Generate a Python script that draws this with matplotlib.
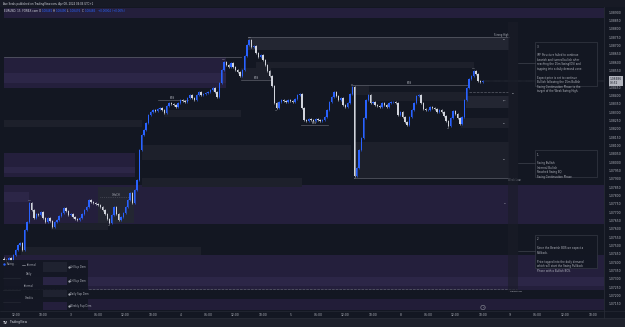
import matplotlib
matplotlib.use("Agg")
import matplotlib.pyplot as plt
from matplotlib.patches import Rectangle, Circle
import numpy as np

# ---------------- data ----------------
closes = [
    1.07412, 1.07400, 1.07424, 1.07406, 1.07442, 1.07472, 1.07502, 1.07514, 1.07472, 1.07592,
    1.07640, 1.07754, 1.07712, 1.07664, 1.07688, 1.07682, 1.07700, 1.07664, 1.07640, 1.07664,
    1.07646, 1.07610, 1.07640, 1.07652, 1.07676, 1.07694, 1.07724, 1.07706, 1.07682, 1.07688,
    1.07670, 1.07658, 1.07652, 1.07664, 1.07688, 1.07712, 1.07730, 1.07772, 1.07760, 1.07754,
    1.07748, 1.07742, 1.07730, 1.07712, 1.07688, 1.07658, 1.07634, 1.07682, 1.07730, 1.07688,
    1.07652, 1.07670, 1.07694, 1.07730, 1.07772, 1.07814, 1.07754, 1.07832, 1.07892, 1.08072,
    1.08162, 1.08192, 1.08234, 1.08282, 1.08300, 1.08312, 1.08306, 1.08318, 1.08324, 1.08312,
    1.08294, 1.08336, 1.08354, 1.08348, 1.08342, 1.08330, 1.08354, 1.08372, 1.08366, 1.08360,
    1.08384, 1.08402, 1.08384, 1.08372, 1.08402, 1.08420, 1.08402, 1.08408, 1.08414, 1.08420,
    1.08432, 1.08444, 1.08420, 1.08390, 1.08474, 1.08552, 1.08600, 1.08582, 1.08570, 1.08594,
    1.08570, 1.08552, 1.08540, 1.08516, 1.08552, 1.08636, 1.08702, 1.08732, 1.08690, 1.08696,
    1.08654, 1.08630, 1.08642, 1.08612, 1.08582, 1.08546, 1.08516, 1.08456, 1.08354, 1.08324,
    1.08360, 1.08372, 1.08366, 1.08360, 1.08372, 1.08366, 1.08360, 1.08378, 1.08402, 1.08408,
    1.08324, 1.08252, 1.08246, 1.08258, 1.08252, 1.08246, 1.08258, 1.08252, 1.08246, 1.08252,
    1.08270, 1.08312, 1.08360, 1.08390, 1.08420, 1.08396, 1.08372, 1.08384, 1.08342, 1.08330,
    1.08354, 1.08408, 1.08450, 1.07916, 1.07964, 1.08072, 1.08144, 1.08264, 1.08372, 1.08402,
    1.08354, 1.08360, 1.08342, 1.08336, 1.08330, 1.08354, 1.08342, 1.08330, 1.08354, 1.08360,
    1.08360, 1.08354, 1.08282, 1.08300, 1.08270, 1.08240, 1.08222, 1.08270, 1.08312, 1.08354,
    1.08396, 1.08402, 1.08354, 1.08318, 1.08312, 1.08312, 1.08330, 1.08324, 1.08318, 1.08300,
    1.08312, 1.08300, 1.08276, 1.08246, 1.08216, 1.08264, 1.08306, 1.08288, 1.08264, 1.08228,
    1.08270, 1.08372, 1.08444, 1.08498, 1.08516, 1.08546, 1.08528, 1.08486, 1.08480, 1.08486,
]
first_open = 1.07420

time_labels = ["12:00", "18:00", "3", "06:00", "12:00", "18:00", "4", "06:00", "12:00", "18:00",
               "5", "06:00", "12:00", "18:00", "8", "06:00", "12:00", "18:00", "9", "06:00",
               "12:00", "18:00"]
first_label_bar = 5
bars_per_label = 12

price_labels = [1.0890 - 0.0005 * k for k in range(36)]

# supply / demand zones: (bar start, bar end, price top, price bottom, kind)
zones = [
    (0, 262, 1.08930, 1.08864, "htf"),
    (0, 97, 1.08630, 1.08444, "htf"),
    (0, 97, 1.08534, 1.08474, "htf2"),
    (0, 57, 1.08054, 1.07910, "htf"),
    (0, 57, 1.07970, 1.07934, "htf2"),
    (0, 262, 1.07862, 1.07628, "htf"),
    (0, 11, 1.07820, 1.07760, "htf2"),
    (0, 262, 1.07442, 1.07232, "htf"),
    (0, 262, 1.07310, 1.07256, "htf2"),
    (0, 262, 1.07178, 1.07112, "htf3"),
    (106.5, 220.5, 1.08750, 1.08672, "ltf2"),
    (110, 205, 1.08600, 1.08564, "ltf"),
    (103.5, 116.6, 1.08564, 1.08492, "ltf"),
    (151.5, 159.4, 1.08462, 1.08402, "ltf"),
    (159.4, 202.6, 1.08420, 1.08366, "ltf"),
    (201.7, 220.5, 1.08396, 1.08324, "ltf2"),
    (199.6, 220.5, 1.08264, 1.08204, "ltf"),
    (152.8, 220.5, 1.08120, 1.07904, "ltf"),
    (60, 151.5, 1.08102, 1.08012, "ltf"),
    (70, 103.5, 1.08312, 1.08270, "ltf"),
    (60, 130, 1.07904, 1.07850, "ltf"),
    (7.4, 86, 1.07490, 1.07442, "ltf"),
    (20.5, 45.4, 1.07634, 1.07592, "ltf"),
    (41, 56.8, 1.07850, 1.07634, "ltf2"),
    (0, 60, 1.08252, 1.08210, "ltf"),
]

# structure lines: (bar start, bar end, price, style, label)
levels = [
    (0, 103.5, 1.08630, "-", ""),
    (106.5, 220.5, 1.08752, "-", "Strong High"),
    (151.5, 202.6, 1.08462, "-", "BOS"),
    (203, 220.5, 1.08420, "--", ""),
    (152.8, 220.0, 1.07904, "-", "Weak Low"),
    (0, 224, 1.07238, "--", ""),
    (129.7, 141.5, 1.08222, "-", "BOS"),
    (67, 80.3, 1.08372, "-", "BOS"),
    (103.5, 116.6, 1.08492, "-", "BOS"),
    (42, 55.5, 1.07790, ":", "CHoCH"),
    (0, 5, 1.07390, "-", ""),
]

# ---------------- style ----------------
BG = "#131722"
UP = "#2962ff"
DN = "#d1d4dc"
TXT = "#b2b5be"
LINE = "#5d606b"
ZCOL = {"htf": ("#241f3c", 1.0), "htf2": ("#2c2647", 1.0), "htf3": ("#221d38", 1.0),
        "ltf": ("#1d202b", 1.0), "ltf2": ("#232632", 1.0)}
W, H = 625, 327
L, R, T, B = 3, 604, 8, 310

fig = plt.figure(figsize=(W / 100, H / 100), dpi=100, facecolor=BG)
ax = fig.add_axes([L / W, 1 - B / H, (R - L) / W, (B - T) / H])
ax.set_facecolor(BG)
for s in ax.spines.values():
    s.set_visible(False)

nb = len(closes)
idx = np.arange(nb)
c = np.array(closes)
o = np.concatenate([[first_open], c[:-1]])
wick = 0.00008
hi = np.maximum(o, c) + wick
lo = np.minimum(o, c) - wick
up = c >= o
cols = np.where(up, UP, DN)

for i0, i1, pt, pb, kind in zones:
    fc, a = ZCOL[kind]
    ax.add_patch(Rectangle((i0, pb), i1 - i0, pt - pb, fc=fc, ec="none", alpha=a, zorder=0))

for i0, i1, p, ls, lab in levels:
    ax.plot([i0, i1], [p, p], color=LINE, lw=0.5, ls=ls, zorder=1)
    if lab:
        if lab in ("Strong High", "Weak Low"):
            ax.text(i1, p, lab, fontsize=1.8, color=TXT, ha="right" if lab == "Strong High" else "left",
                    va="bottom" if lab == "Strong High" else "top", zorder=3)
        else:
            ax.text((i0 + i1) / 2, p, lab, fontsize=1.8, color=TXT, ha="center", va="bottom", zorder=3)

ax.vlines(idx, lo, hi, colors=cols, lw=0.45, zorder=2)
ax.bar(idx, np.maximum(np.abs(c - o), 0.00002), bottom=np.minimum(o, c), width=0.6,
       color=cols, linewidth=0, zorder=2)

# small swing labels
swing_tags = [(107, "HH", "b"), (152, "LH", "b"), (153, "LL", "t"), (205, "HH", "b"), (194, "HL", "t"),
              (11, "HH", "b"), (46, "HL", "t"), (96, "HH", "b"), (119, "HL", "t"), (1, "LL", "t")]
for i, tag, side in swing_tags:
    if side == "b":
        ax.text(i, hi[i] + 0.00004, tag, fontsize=1.6, color=TXT, ha="center", va="bottom", zorder=3)
    else:
        ax.text(i, lo[i] - 0.00004, tag, fontsize=1.6, color=TXT, ha="center", va="top", zorder=3)

xlim1 = (R - L) / 2.29 - 0.5
ax.set_xlim(-0.5, xlim1)
ax.set_ylim(1.07112, 1.08924)

ax.set_xticks([first_label_bar + bars_per_label * k for k in range(len(time_labels))])
ax.set_xticklabels(time_labels)
ax.yaxis.tick_right()
shown_prices = [p for p in price_labels if abs(p - closes[-1]) > 0.00035]
ax.set_yticks(shown_prices)
ax.set_yticklabels([f"{p:.5f}" for p in shown_prices])
ax.tick_params(axis="both", length=0, colors=TXT, labelsize=2.2)
ax.tick_params(axis="y", pad=3.6)
ax.tick_params(axis="x", pad=2.2)
ax.grid(False)

# current price label
ax.annotate(f"{closes[-1]:.5f}\n03:52", xy=(1.0, closes[-1]), xycoords=("axes fraction", "data"),
            xytext=(4, 0), textcoords="offset points", fontsize=2.1, color="#131722",
            ha="left", va="center", linespacing=1.0, zorder=6,
            bbox=dict(boxstyle="square,pad=0.35", fc="#b2b5be", ec="none"))
ax.plot([nb - 1, xlim1], [closes[-1], closes[-1]], color="#787b86", lw=0.3, ls=":", zorder=1)

# ---------------- overlay (pixel coordinates) ----------------
ov = fig.add_axes([0, 0, 1, 1], zorder=5)
ov.set_xlim(0, W)
ov.set_ylim(H, 0)
ov.axis("off")
ov.patch.set_alpha(0)

ov.add_patch(Rectangle((0, 0), W, 7, fc="#171a25", ec="none"))
ov.add_patch(Rectangle((0, 318), W, 9, fc="#1e212c", ec="none"))
ov.plot([R, R], [7, 318], color="#2a2e39", lw=0.5)
ov.plot([0, W], [310.5, 310.5], color="#2a2e39", lw=0.4)
ov.plot([0, W], [318, 318], color="#2a2e39", lw=0.4)

ov.text(3, 3.8, "Ave Seals published on TradingView.com, Apr 08, 2024 04:06 UTC+1", fontsize=1.9,
        color="#d1d4dc", va="center", ha="left")
ov.text(4, 10.5, "EURUSD, 15, FOREX.com", fontsize=2.0, color="#d1d4dc", va="center", ha="left")
ohlc = [("O", "1.08482", 39), ("H", "1.08490", 53), ("L", "1.08476", 67), ("C", "1.08486", 82)]
for k, v, x in ohlc:
    ov.text(x, 10.5, k, fontsize=2.0, color="#d1d4dc", va="center", ha="left")
    ov.text(x + 2.5, 10.5, v, fontsize=2.0, color=UP, va="center", ha="left")
ov.text(98, 10.5, "+0.00004 (+0.00%)", fontsize=2.0, color=UP, va="center", ha="left")

ov.text(3, 322.5, "TV", fontsize=2.4, color="#d1d4dc", va="center", ha="left", weight="bold")
ov.text(9, 322.5, "TradingView", fontsize=2.2, color="#d1d4dc", va="center", ha="left")

# event icon
ov.add_patch(Circle((483, 307.5), 2.2, fc="none", ec="#9598a1", lw=0.4))
ov.text(483, 307.6, "E", fontsize=1.6, color="#9598a1", ha="center", va="center")

# dotted projection strip
ov.add_patch(Rectangle((508, 22), 10, 270, fc="#1a1d28", ec="none", alpha=0.6))

# right annotation boxes
boxes = [
    (535, 42, 62, 44, 63,
     "3.\n\nIRF Structure failed to continue\nbearish and turned bullish after\nreaching the 15m Swing(OS) and\n"
     "tapping into a daily demand zone.\n\nExpect price is set to continue\nBullish following the 15m Bullish\n"
     "Swing Continuation Phase to the\ntarget of the Weak Swing High."),
    (535, 150, 62, 27, 163,
     "1.\n\nSwing Bullish\nInternal Bullish\nReached Swing EQ\nSwing Continuation Phase"),
    (535, 235, 62, 33, 251,
     "2.\n\nSince the Bearish BOS we expect a\nPullback.\n\nPrice tapped into the daily demand\n"
     "which will start the Swing Pullback\nPhase with a Bullish BOS."),
]
for x, y, w, h, cy, txt in boxes:
    ov.add_patch(Rectangle((x, y), w, h, fc=BG, ec="#363a45", lw=0.5, alpha=0.95))
    ov.text(x + 2, y + 2.5, txt, fontsize=1.9, color=TXT, va="top", ha="left", linespacing=1.15)
    ov.plot([518, x], [cy, cy], color="#4a4e59", lw=0.4)

# tiny zone tags on right edge
for y, t in [(40, "4H"), (100, "1/2"), (123, "1H"), (160, "4H"), (203, "D")]:
    ov.text(506, y, t, fontsize=1.6, color=TXT, ha="right", va="center")
ov.text(512, 93, "EQ", fontsize=1.6, color=TXT, ha="left", va="center")
ov.text(510, 292, "Swing Low", fontsize=1.6, color=TXT, ha="left", va="center")

# bottom-left legend table
ov.add_patch(Rectangle((3, 260), 85, 50, fc=BG, ec="none", alpha=0.9))
ov.add_patch(Circle((4.5, 264.5), 1.2, fc=UP, ec="none"))
ov.text(7, 264.5, "Swing", fontsize=1.8, color=TXT, va="center", ha="left")
ov.plot([22, 25], [264.5, 264.5], color=TXT, lw=0.4)
ov.text(27, 264.5, "Internal", fontsize=1.8, color=TXT, va="center", ha="left")
for y, t in [(274, "Daily"), (286, "Internal"), (298, "Credits")]:
    ov.text(29, y, t, fontsize=1.8, color=TXT, va="center", ha="center")
    ov.plot([3, 20], [y + 4, y + 4], color="#2a2e39", lw=0.4)
legend_rows = [(262, 272, "#1f2230", "4H Sup Dem"), (277, 285, "#2a2545", "1H Sup Dem"),
               (290, 297, "#1f2230", "Daily Sup Dem"), (302, 310, "#241f3c", "Weekly Sup Dem")]
for y0, y1, fc, t in legend_rows:
    ov.add_patch(Rectangle((43, y0), 24, y1 - y0, fc=fc, ec="none"))
    ov.plot([68.5], [(y0 + y1) / 2], marker="o", ms=0.6, color=TXT)
    ov.text(70, (y0 + y1) / 2, t, fontsize=1.8, color=TXT, va="center", ha="left")

fig.savefig("out.png", dpi=100, facecolor=BG)
